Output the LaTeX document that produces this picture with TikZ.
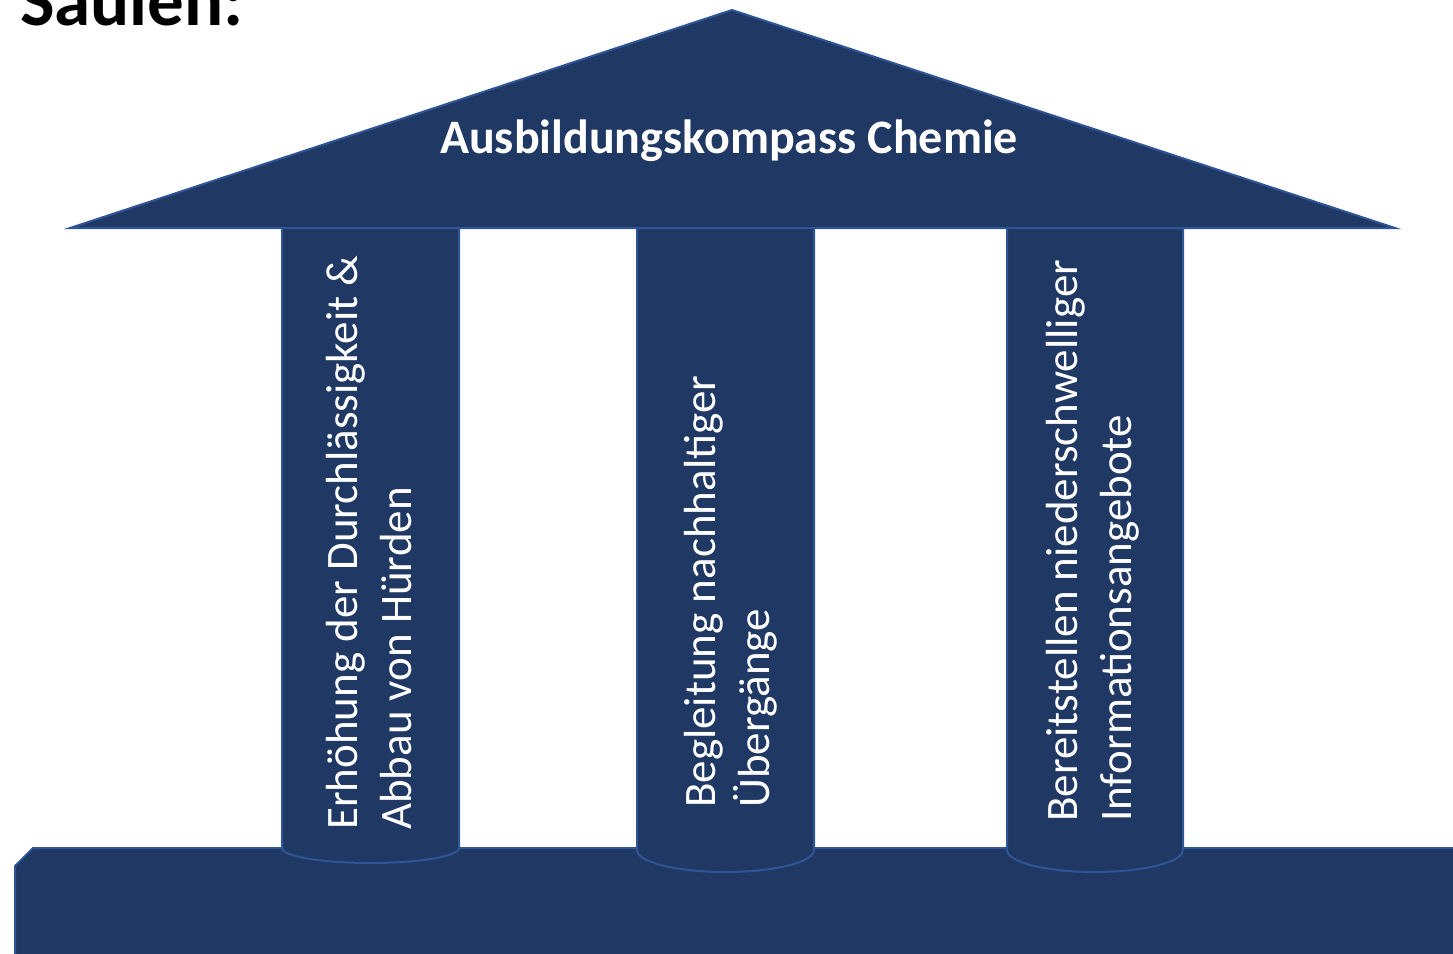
\documentclass[tikz,border=0pt]{standalone}
\usepackage{fontspec}
\setmainfont{Carlito}
\usepackage{tikz}
\usetikzlibrary{positioning}

\definecolor{navy}{HTML}{203864}
\definecolor{rim}{HTML}{2F5597}

\tikzset{
  part/.style = {fill = navy, draw = rim, line width = 2pt},
  pillartext/.style = {
    text = white,
    rotate = 90,
    anchor = west,
    align = left,
    inner sep = 0pt,
    font = \fontsize{45}{54}\selectfont,
  },
}

\begin{document}
\begin{tikzpicture}[x = 1pt, y = -1pt]
        \useasboundingbox (0, 0) rectangle (1453, 953);
        \clip (0, 0) rectangle (1453, 953);

        % heading, cut at the top
        \node [anchor = base west, inner sep = 0pt,
          font = \fontsize{73}{80}\bfseries\selectfont] (heading) at (20, 25) {S\"aulen:};

        % base
        \draw [part] (15, 866) -- (33, 848) -- (1470, 848) -- (1470, 970)
          -- (15, 970) -- cycle;

        % pillars
        \draw [part] (282, 228) -- (282, 848) arc [start angle = 180,
          end angle = 0, x radius = 88.5, y radius = 15] -- (459, 228);
        \draw [part] (637, 228) -- (637, 850) arc [start angle = 180,
          end angle = 0, x radius = 88.5, y radius = 22] -- (814, 228);
        \draw [part] (1007, 228) -- (1007, 850) arc [start angle = 180,
          end angle = 0, x radius = 88, y radius = 22] -- (1183, 228);

        % roof
        \draw [part] (70, 228) -- (732, 10) -- (1395, 228) -- cycle;
        \node [anchor = base, text = white,
          font = \fontsize{48}{56}\bfseries\selectfont]
          (roof) at (729, 153) {Ausbildungskompass Chemie};

        \node [pillartext] (p1) at (369, 830) {
          Erh\"ohung der Durchl\"assigkeit \&\\Abbau von H\"urden};
        \node [pillartext] (p2) at (731, 808) {
          Begleitung nachhaltiger\\\"Uberg\"ange};
        \node [pillartext] (p3) at (1093, 822) {
          Bereitstellen niederschwelliger\\Informationsangebote};
      \end{tikzpicture}
\end{document}
